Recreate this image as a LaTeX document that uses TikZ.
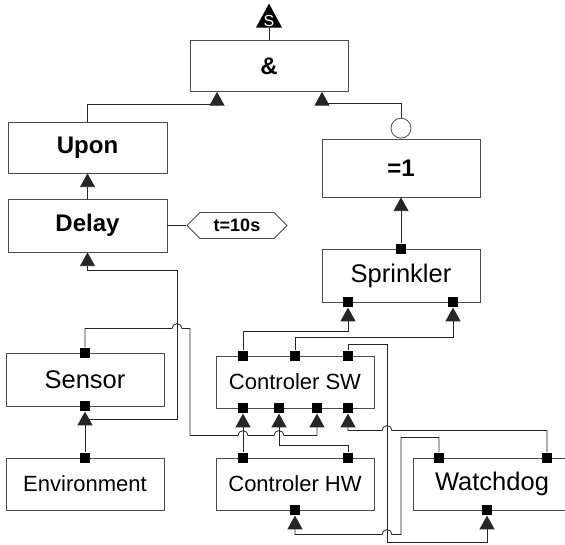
\documentclass[tikz,border=0pt]{standalone}
\usepackage{fontspec}
\setmainfont{Liberation Sans}
\usepackage{xcolor}
\usepackage{tikz}
\usetikzlibrary{arrows.meta,shapes.symbols,positioning}

\tikzset{
  blk/.style={draw=black!70, line width=0.8pt, minimum width=158pt, minimum height=52pt, inner sep=0pt},
  gate/.style={blk, font=\fontsize{24}{28}\selectfont\bfseries},
  unit/.style={blk, font=\fontsize{25.5}{30}\selectfont},
  unitsm/.style={blk, font=\fontsize{22}{26}\selectfont},
  port/.style={fill=black, minimum size=10pt, inner sep=0pt},
  wire/.style={draw=black!85, line width=0.8pt},
  flow/.style={wire, -{Triangle[length=11pt,width=12pt,scale=1.25]}},
}

\begin{document}
\begin{tikzpicture}[x=1pt,y=1pt]
\useasboundingbox (0,0) rectangle (565,545);
\node[gate, minimum height=51pt](and) at (269,479){\&};
\node[gate, minimum width=159pt, minimum height=51pt](upon) at (87.5,397.5){Upon};
\node[gate, minimum width=159pt, minimum height=53pt, below of =upon, node distance=78pt](delay){Delay};
\node[signal, signal to=east and west, signal pointer angle=90, draw=black!70, line width=0.8pt, minimum width=100pt, minimum height=26pt, inner sep=1pt, font=\fontsize{18}{20}\selectfont\bfseries, right of =delay, node distance=149.5pt](tval){t=10s};
\node[gate, minimum height=58pt](xor) at (401,377){=1};
\node[circle, draw=black!70, line width=0.8pt, minimum size=20pt, inner sep=0pt, anchor=south](notc) at (xor.north){};
\node[unit, minimum height=53pt, below of =xor, node distance=107.5pt](sprinkler){Sprinkler};
\node[unit, minimum height=53pt](sensor) at (85,165.5){Sensor};
\node[unitsm, below of =sensor, node distance=104.5pt](env){Environment};
\node[unitsm](sw) at (295,163){Controler SW};
\node[unitsm, below of =sw, node distance=102pt](hw){Controler HW};
\node[unit, right of =hw, node distance=197pt](wd){Watchdog};

\coordinate (s) at ([yshift=12.5pt]and.north);
\fill[black] (s) ++(-13,0) -- ++(13,24) -- ++(13,-24) -- cycle;
\node[text=white, inner sep=0pt, font=\fontsize{16}{17}\selectfont](slbl) at ([yshift=7pt]s){S};
\draw[wire] (s) -- (and.north);

\node[port](spt) at (sprinkler.north){};
\node[port](spb1) at ([xshift=-53pt]sprinkler.south){};
\node[port](spb2) at ([xshift=52pt]sprinkler.south){};
\node[port](sent) at (sensor.north){};
\node[port](senb) at (sensor.south){};
\node[port](envt) at (env.north){};
\node[port](swt1) at ([xshift=-52pt]sw.north){};
\node[port](swt2) at (sw.north){};
\node[port](swt3) at ([xshift=53pt]sw.north){};
\node[port](swb1) at ([xshift=-52pt]sw.south){};
\node[port](swb2) at ([xshift=-16pt]sw.south){};
\node[port](swb3) at ([xshift=22pt]sw.south){};
\node[port](swb4) at ([xshift=53pt]sw.south){};
\node[port](hwt1) at ([xshift=-52pt]hw.north){};
\node[port](hwt2) at ([xshift=53pt]hw.north){};
\node[port](hwb) at (hw.south){};
\node[port](wdt1) at ([xshift=-53pt]wd.north){};
\node[port](wdt2) at ([xshift=55pt]wd.north){};
\node[port](wdb) at ([xshift=-5pt]wd.south){};

\draw[flow] (upon.north) -- ++(0,17) -| ([xshift=-52pt]and.south);
\draw[flow] (notc.north) -- ++(0,14) -| ([xshift=53pt]and.south);
\draw[flow] (delay.north) -- (upon.south);
\draw[wire] (delay.east) -- (tval.west);
\draw[flow] (spt) -- (xor.south);
\draw[flow] (envt) -- (senb.south);
\draw[flow] ([yshift=-8pt]senb.south) -- ++(92,0) |- ([yshift=-18pt]delay.south) -- (delay.south);
\draw[flow] (sent) -- ++(0,24) -- ++(87,0) arc[start angle=180, end angle=0, radius=5] -- ++(8,0) -- ++(0,-107) -- ++(48,0) arc[start angle=180, end angle=0, radius=5] -- ++(26,0) arc[start angle=180, end angle=0, radius=5] -| (swb3.south);
\draw[flow] (swt1) -- ++(0,24) -| (spb1.south);
\draw[flow] (swt2) -- ++(0,18) -| (spb2.south);
\draw[flow] (hwt1) -- (swb1.south);
\draw[flow] (hwt2) |- ([yshift=-32pt]swb2.south) -- (swb2.south);
\draw[flow] (wdt2) -- ++(0,27) -- ++(-155,0) arc[start angle=0, end angle=180, radius=5] -| (swb4.south);
\draw[flow] (swt3) -- ++(0,11) -- ++(39,0) -- ++(0,-198) -| (wdb.south);
\draw[flow] (wdt1) -- ++(0,20) -- ++(-38,0) -- ++(0,-97) -- ++(-9,0) arc[start angle=0, end angle=180, radius=5] -| (hwb.south);
\end{tikzpicture}
\end{document}
